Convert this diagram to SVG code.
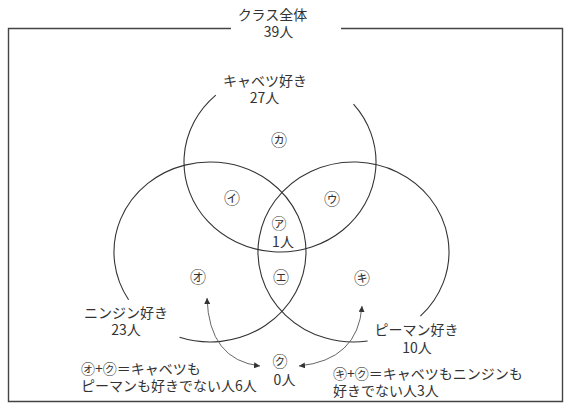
<svg xmlns="http://www.w3.org/2000/svg" width="572" height="412" viewBox="0 0 572 412">
<style>
  text { font-family: "Noto Sans CJK JP", "Noto Sans", sans-serif; font-size: 14px; fill: #333; }
  .m { text-anchor: middle; }
  .c { font-size: 16px; }
  .set { fill: none; stroke: #333; stroke-width: 1.1; }
  .frame { fill: none; stroke: #444; stroke-width: 1.4; }
  .arrow { fill: none; stroke: #555; stroke-width: 0.9; marker-start: url(#ah); marker-end: url(#ah); }
</style>
<defs>
  <marker id="ah" viewBox="0 0 6 6" refX="6" refY="3" markerWidth="6" markerHeight="6" markerUnits="userSpaceOnUse" orient="auto-start-reverse">
    <path d="M0,0 L6,3 L0,6 z" fill="#333"/>
  </marker>
</defs>
<rect width="572" height="412" fill="#fff"/>

<g id="universe">
  <path class="frame" d="M231,28.5 H8.5 V401.5 H562.5 V28.5 H341"/>
  <text class="m"><tspan x="272.5" y="20">クラス全体</tspan><tspan x="278.5" y="37">39人</tspan></text>
</g>

<g id="cabbage">
  <path class="set" d="M215.8,95.1 A96,90 0 1 0 353.5,104.1"/>
  <text class="m"><tspan x="265" y="86">キャベツ好き</tspan><tspan x="264.5" y="103">27人</tspan></text>
</g>

<g id="carrot">
  <path class="set" d="M128.6,299.7 A96,90 0 1 1 179.5,337.3"/>
  <text class="m"><tspan x="126" y="318">ニンジン好き</tspan><tspan x="126" y="335">23人</tspan></text>
</g>

<g id="pepper">
  <path class="set" d="M420.4,316.2 A95.5,90 0 1 0 367.6,341"/>
  <text class="m"><tspan x="416.5" y="335">ピーマン好き</tspan><tspan x="417" y="353">10人</tspan></text>
</g>

<g id="region-a"><text class="m" x="279" y="229" style="font-size:15px">㋐</text><text class="m" x="283" y="247">1人</text></g>
<g id="region-i"><text class="m c" x="232" y="204">㋑</text></g>
<g id="region-u"><text class="m c" x="332" y="205">㋒</text></g>
<g id="region-e"><text class="m c" x="281" y="283">㋓</text></g>
<g id="region-o"><text class="m c" x="198" y="283">㋔</text></g>
<g id="region-ka"><text class="m c" x="279" y="146">㋕</text></g>
<g id="region-ki"><text class="m c" x="362" y="284">㋖</text></g>
<g id="region-ku"><text class="m" x="280" y="367" style="font-size:15px">㋗</text><text class="m" x="284.5" y="385">0人</text></g>

<g id="note-left">
  <text><tspan x="81" y="374">㋔+㋗＝キャベツも</tspan><tspan x="81" y="391">ピーマンも好きでない人6人</tspan></text>
</g>
<g id="note-right">
  <text><tspan x="333" y="379">㋖+㋗＝キャベツもニンジンも</tspan><tspan x="333" y="396">好きでない人3人</tspan></text>
</g>

<g id="connectors">
  <path class="arrow" d="M207,298 Q209,360 260,366"/>
  <path class="arrow" d="M299,366 Q358,360 362,306"/>
</g>
</svg>
